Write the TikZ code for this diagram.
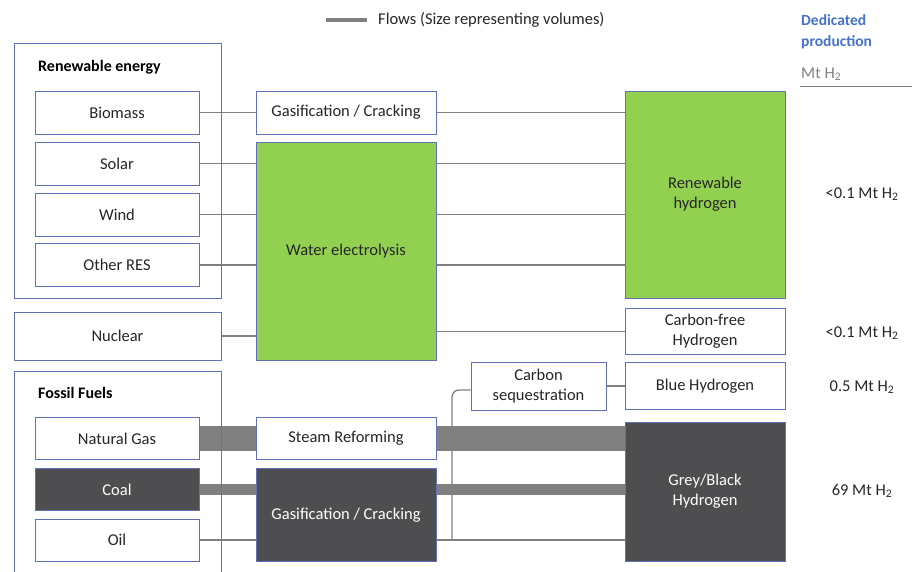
\documentclass[tikz,border=0pt]{standalone}
\usepackage{fontspec}
\setmainfont{Carlito}
\usetikzlibrary{positioning,calc}
\definecolor{boxblue}{RGB}{98,112,184}
\definecolor{h2green}{RGB}{146,208,80}
\definecolor{h2dark}{RGB}{78,78,80}
\definecolor{flowgray}{RGB}{128,128,128}
\definecolor{txtdark}{RGB}{38,38,38}
\definecolor{headblue}{RGB}{68,114,200}
\tikzset{
	src/.style={rectangle, draw=boxblue, fill=white, line width=1pt, inner sep=0pt, minimum width=164pt, minimum height=43pt, text=txtdark},
	proc/.style={src, minimum width=180pt},
	prod/.style={src, minimum width=160pt, align=center},
	grp/.style={rectangle, draw=boxblue, line width=1pt, minimum width=207pt},
	greenbox/.style={fill=h2green},
	darkbox/.style={fill=h2dark, text=white},
	title/.style={anchor=west, inner sep=0pt, font=\fontsize{16}{20}\selectfont\bfseries, text=black},
	value/.style={inner sep=0pt, text=txtdark}
}

\begin{document}
\begin{tikzpicture}[x=1pt, y=-1pt, font=\fontsize{16.5}{20}\selectfont,
	edge/.style={draw=flowgray, line width=1.3pt},
	bigflow/.style={draw=flowgray}]
\useasboundingbox (0,0) rectangle (912,571);
% legend and header
\coordinate (legA) at (326,20);
\coordinate (legB) at (367,20);
\draw[bigflow, line width=4pt] (legA) -- (legB);
\node[value, anchor=west] (Legend) at (378,20) {Flows (Size representing volumes)};
\node[anchor=west, inner sep=0pt, align=left, text=headblue, font=\fontsize{15.5}{21}\selectfont\bfseries] (Head) at (801,31.5) {Dedicated\\production};
\node[anchor=west, inner sep=0pt, text=flowgray] (Unit) at (801,74) {Mt H\textsubscript{2}};
\coordinate (ruleL) at (800,86);
\coordinate (ruleR) at (912,86);
\draw[draw=flowgray, line width=1pt] (ruleL) -- (ruleR);

% sources
\node[src] (Bio) at (117,112.5) {Biomass};
\node[src] (Sol) [below=7pt of Bio] {Solar};
\node[src] (Wind) [below=7pt of Sol] {Wind};
\node[src] (ORes) [below=6.5pt of Wind] {Other RES};
\node[src, minimum width=207pt, minimum height=48pt] (Nuc) at (117.5,336) {Nuclear};
\node[src, minimum height=42pt] (NG) at (117,438.5) {Natural Gas};
\node[src, darkbox, minimum height=42pt] (Coal) [below=8pt of NG] {Coal};
\node[src, minimum height=42pt] (Oil) [below=7.5pt of Coal] {Oil};

% processes
\node[proc] (Gas1) [right=56pt of Bio] {Gasification / Cracking};
\node[proc, greenbox, minimum height=218pt] (Elec) at (346,251) {Water electrolysis};
\node[proc, minimum height=42pt] (Steam) [right=56pt of NG] {Steam Reforming};
\node[proc, darkbox, minimum height=92.5pt] (Gas2) at (346,514.75) {Gasification / Cracking};

% hydrogen
\node[prod, greenbox, minimum height=207pt] (RenH) at (705,194.5) {Renewable\\hydrogen};
\node[prod, minimum height=46.5pt] (CFreeH) [below=9pt of RenH] {Carbon-free\\Hydrogen};
\node[prod, minimum height=47pt] (BlueH) [below=7pt of CFreeH] {Blue Hydrogen};
\node[prod, darkbox, minimum height=139pt] (GreyH) at (705,491.5) {Grey/Black\\Hydrogen};
\node[prod, minimum width=135pt, minimum height=48pt] (CSeq) [left=18pt of BlueH] {Carbon\\sequestration};

% volumes
\node[value] (Val1) at (862,194) {<0.1 Mt H\textsubscript{2}};
\node[value] (Val2) at (862,333) {<0.1 Mt H\textsubscript{2}};
\node[value] (Val3) at (862,387) {0.5 Mt H\textsubscript{2}};
\node[value] (Val4) at (862,491) {69 Mt H\textsubscript{2}};

% thin flows
\draw[edge] (Bio) -- (Gas1);
\draw[edge] (Gas1) -- (Gas1 -| RenH.west);
\draw[edge] (Sol) -- (Sol -| Elec.west);
\draw[edge] (Wind) -- (Wind -| Elec.west);
\draw[edge] (ORes) -- (ORes -| Elec.west);
\draw[edge] (Nuc) -- (Nuc -| Elec.west);
\draw[edge] (Sol -| Elec.east) -- (Sol -| RenH.west);
\draw[edge] (Wind -| Elec.east) -- (Wind -| RenH.west);
\draw[edge] (ORes -| Elec.east) -- (ORes -| RenH.west);
\draw[edge] (CFreeH -| Elec.east) -- (CFreeH);
\draw[edge] (CSeq) -- (BlueH);
\draw[edge] (Oil) -- (Oil -| Gas2.west);
\draw[edge] (Oil -| Gas2.east) -- (Oil -| GreyH.west);
\coordinate (tap) at (Oil -| 452,0);
\draw[edge, rounded corners=7pt] (tap) |- ([yshift=-4pt]CSeq.west);

% thick flows
\draw[bigflow, line width=25pt] (NG) -- (Steam);
\draw[bigflow, line width=25pt] (Steam) -- (Steam -| GreyH.west);
\draw[bigflow, line width=10.5pt] (Coal) -- (Coal -| Gas2.west);
\draw[bigflow, line width=10.5pt] (Coal -| Gas2.east) -- (Coal -| GreyH.west);

% group frames
\node[grp, minimum height=255pt] (REGroup) at (117.5,171) {};
\node[title] (RETitle) at (38,67) {Renewable energy};
\node[grp, minimum height=210pt] (FFGroup) at (117.5,476) {};
\node[title] (FFTitle) at (38,393) {Fossil Fuels};
\end{tikzpicture}
\end{document}
